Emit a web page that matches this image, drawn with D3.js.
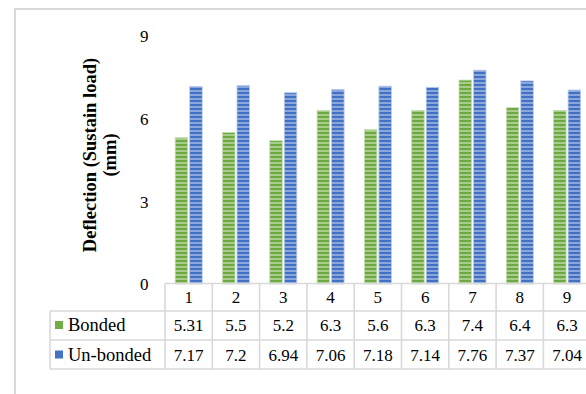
<!DOCTYPE html>
<html><head><meta charset="utf-8">
<script src="https://cdn.jsdelivr.net/npm/d3@7"></script>
<style>body{margin:0;background:#fff}svg{display:block}</style>
</head><body><svg id="c" width="586" height="394" font-family="Liberation Serif"></svg>
<script>
const categories = ["1","2","3","4","5","6","7","8","9"];
const seriesNames = ["Bonded","Un-bonded"];
const bonded = [5.31,5.5,5.2,6.3,5.6,6.3,7.4,6.4,6.3];
const unbonded = [7.17,7.2,6.94,7.06,7.18,7.14,7.76,7.37,7.04];
const yTicks = [0,3,6,9];
const yTitle = ["Deflection (Sustain load)","(mm)"];

const FONT = "Liberation Serif";
const svg = d3.select("#c");
const defs = svg.append("defs");
function stripe(id, dark, light){
  const p = defs.append("pattern").attr("id",id).attr("patternUnits","userSpaceOnUse")
    .attr("width",4).attr("height",4);
  p.append("rect").attr("width",4).attr("height",4).attr("fill",light);
  p.append("rect").attr("width",4).attr("height",2).attr("fill",dark);
}
stripe("pg","#6fa843","#a6cd8a");
stripe("pb","#4270c2","#8aa6dc");
const fills = ["url(#pg)","url(#pb)"];
const strokes = ["#c3deb0","#b9cbee"];
const swatch = ["#70ad47","#4472c4"];
const grid = "#d9d9d9";

// outer frame
svg.append("path").attr("d","M15,394V9H586").attr("fill","none").attr("stroke",grid).attr("stroke-width",2);

const x = d3.scaleBand().domain(categories).range([165,590.7]);
const x1 = d3.scaleBand().domain(seriesNames).range([10.2,37.2]).paddingInner(0.138);
const y = d3.scaleLinear().domain([0,9]).range([284,36]);
const data = [bonded, unbonded];

// bars
seriesNames.forEach((s,si)=>{
  svg.append("g").selectAll("rect").data(categories).join("rect")
    .attr("x",d=>x(d)+x1(s)).attr("width",x1.bandwidth())
    .attr("y",(d,i)=>y(data[si][i])).attr("height",(d,i)=>y(0)-y(data[si][i]))
    .attr("fill",fills[si]).attr("stroke",strokes[si]).attr("stroke-width",0.8);
});

// y axis labels
const yAxis = d3.axisLeft(y).tickValues(yTicks).tickSize(0).tickPadding(0).tickFormat(d3.format("d"));
const ga = svg.append("g").attr("transform","translate(148.5,0)").call(yAxis)
  .attr("font-family",FONT).attr("font-size",17);
ga.select(".domain").remove();
ga.selectAll("text").attr("font-size",17).attr("font-family",FONT).attr("fill","#000").attr("dy","0.35em");

// y title
const tg = svg.append("g").attr("transform","translate(0,155) rotate(-90)");
yTitle.forEach((t,i)=>{
  tg.append("text").attr("x",0).attr("y",96+i*20).attr("text-anchor","middle")
    .attr("font-family",FONT).attr("font-weight","bold").attr("font-size",18.5).text(t);
});

// data table
const rows = [283.5, 311, 340, 369];
const xr = x.range();
const lg = svg.append("g").attr("stroke",grid).attr("stroke-width",1.6);
lg.append("line").attr("x1",xr[0]).attr("x2",xr[1]).attr("y1",rows[0]).attr("y2",rows[0]);
rows.slice(1).forEach(r=>lg.append("line").attr("x1",50).attr("x2",xr[1]).attr("y1",r).attr("y2",r));
categories.forEach(c=>lg.append("line").attr("x1",x(c)).attr("x2",x(c)).attr("y1",rows[0]).attr("y2",rows[3]));
lg.append("line").attr("x1",50).attr("x2",50).attr("y1",rows[1]).attr("y2",rows[3]);

const cx = d=>x(d)+x.bandwidth()/2;
svg.append("g").selectAll("text").data(categories).join("text")
  .attr("x",cx).attr("y",303).attr("text-anchor","middle").attr("font-family",FONT).attr("font-size",17).text(d=>d);
data.forEach((arr,si)=>{
  svg.append("g").selectAll("text").data(categories).join("text")
    .attr("x",cx).attr("y",331+si*29.5).attr("text-anchor","middle").attr("font-family",FONT).attr("font-size",17)
    .text((d,i)=>arr[i]);
  svg.append("rect").attr("x",55).attr("y",321+si*29.5).attr("width",8).attr("height",8).attr("fill",swatch[si]);
  svg.append("text").attr("x",68).attr("y",331+si*29.5).attr("font-family",FONT).attr("font-size",18.5).text(seriesNames[si]);
});
</script></body></html>
